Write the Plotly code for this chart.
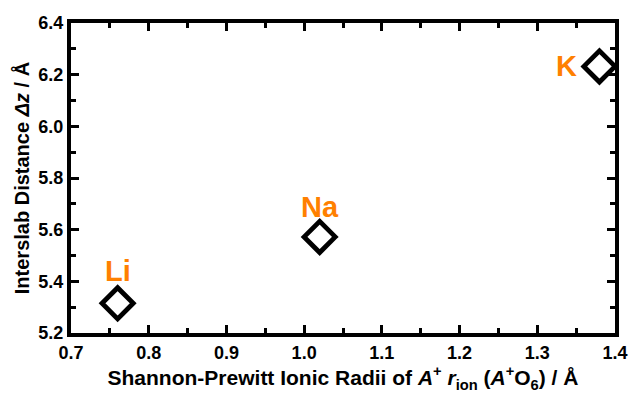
import plotly.graph_objects as go

elements = ["Li", "Na", "K"]
ionic_radii = [0.76, 1.02, 1.38]
interslab = [5.315, 5.572, 6.232]

x_ticks = [0.7, 0.8, 0.9, 1.0, 1.1, 1.2, 1.3, 1.4]
y_ticks = [5.2, 5.4, 5.6, 5.8, 6.0, 6.2, 6.4]

FONT = "Liberation Sans, Arial, sans-serif"
ORANGE = "#FF8000"

label_shift = {"Li": (0, 32), "Na": (0, 30), "K": (-20, 0)}

fig = go.Figure()
fig.add_trace(go.Scatter(
    x=ionic_radii, y=interslab,
    mode="markers",
    marker=dict(symbol="diamond-open", size=24, color="black",
                line=dict(width=4.8, color="black")),
    cliponaxis=False,
    showlegend=False,
))

for name, xv, yv in zip(elements, ionic_radii, interslab):
    dx, dy = label_shift[name]
    fig.add_annotation(
        x=xv, y=yv, text=name, showarrow=False,
        xshift=dx, yshift=dy,
        xanchor="center" if dx == 0 else "right", yanchor="middle",
        font=dict(family=FONT, size=29, color=ORANGE, weight="bold"),
    )

axis_common = dict(
    showline=True, linewidth=4, linecolor="black", mirror="allticks",
    ticks="inside", ticklen=8, tickwidth=2.5, tickcolor="black",
    showgrid=False, zeroline=False, automargin=False,
    tickfont=dict(family=FONT, size=18, color="black", weight="bold"),
)

fig.update_xaxes(
    **axis_common,
    range=[0.7, 1.4], tickmode="array", tickvals=x_ticks,
    ticktext=[f"{v:.1f}" for v in x_ticks],
    minor=dict(ticks="inside", ticklen=5, tickwidth=2.5, tickcolor="black",
               tickmode="linear", tick0=0.7, dtick=0.05, showgrid=False),
    title=dict(text="Shannon-Prewitt Ionic Radii of <i>A</i><sup>+</sup> <i>r</i><sub>ion</sub> (<i>A</i><sup>+</sup>O<sub>6</sub>) / Å",
               font=dict(family=FONT, size=21, color="black", weight="bold"), standoff=10),
)
fig.update_yaxes(
    **axis_common,
    range=[5.2, 6.4], tickmode="array", tickvals=y_ticks,
    ticktext=[f"{v:.1f}" for v in y_ticks],
    minor=dict(ticks="inside", ticklen=5, tickwidth=2.5, tickcolor="black",
               tickmode="linear", tick0=5.2, dtick=0.1, showgrid=False),
    title=dict(text="Interslab Distance <i>Δz</i> / Å",
               font=dict(family=FONT, size=20, color="black", weight="bold"), standoff=4),
)

fig.update_layout(
    width=629, height=395,
    margin=dict(l=71, r=14, t=23, b=62),
    paper_bgcolor="white", plot_bgcolor="white",
)

fig.write_html("out.html")
